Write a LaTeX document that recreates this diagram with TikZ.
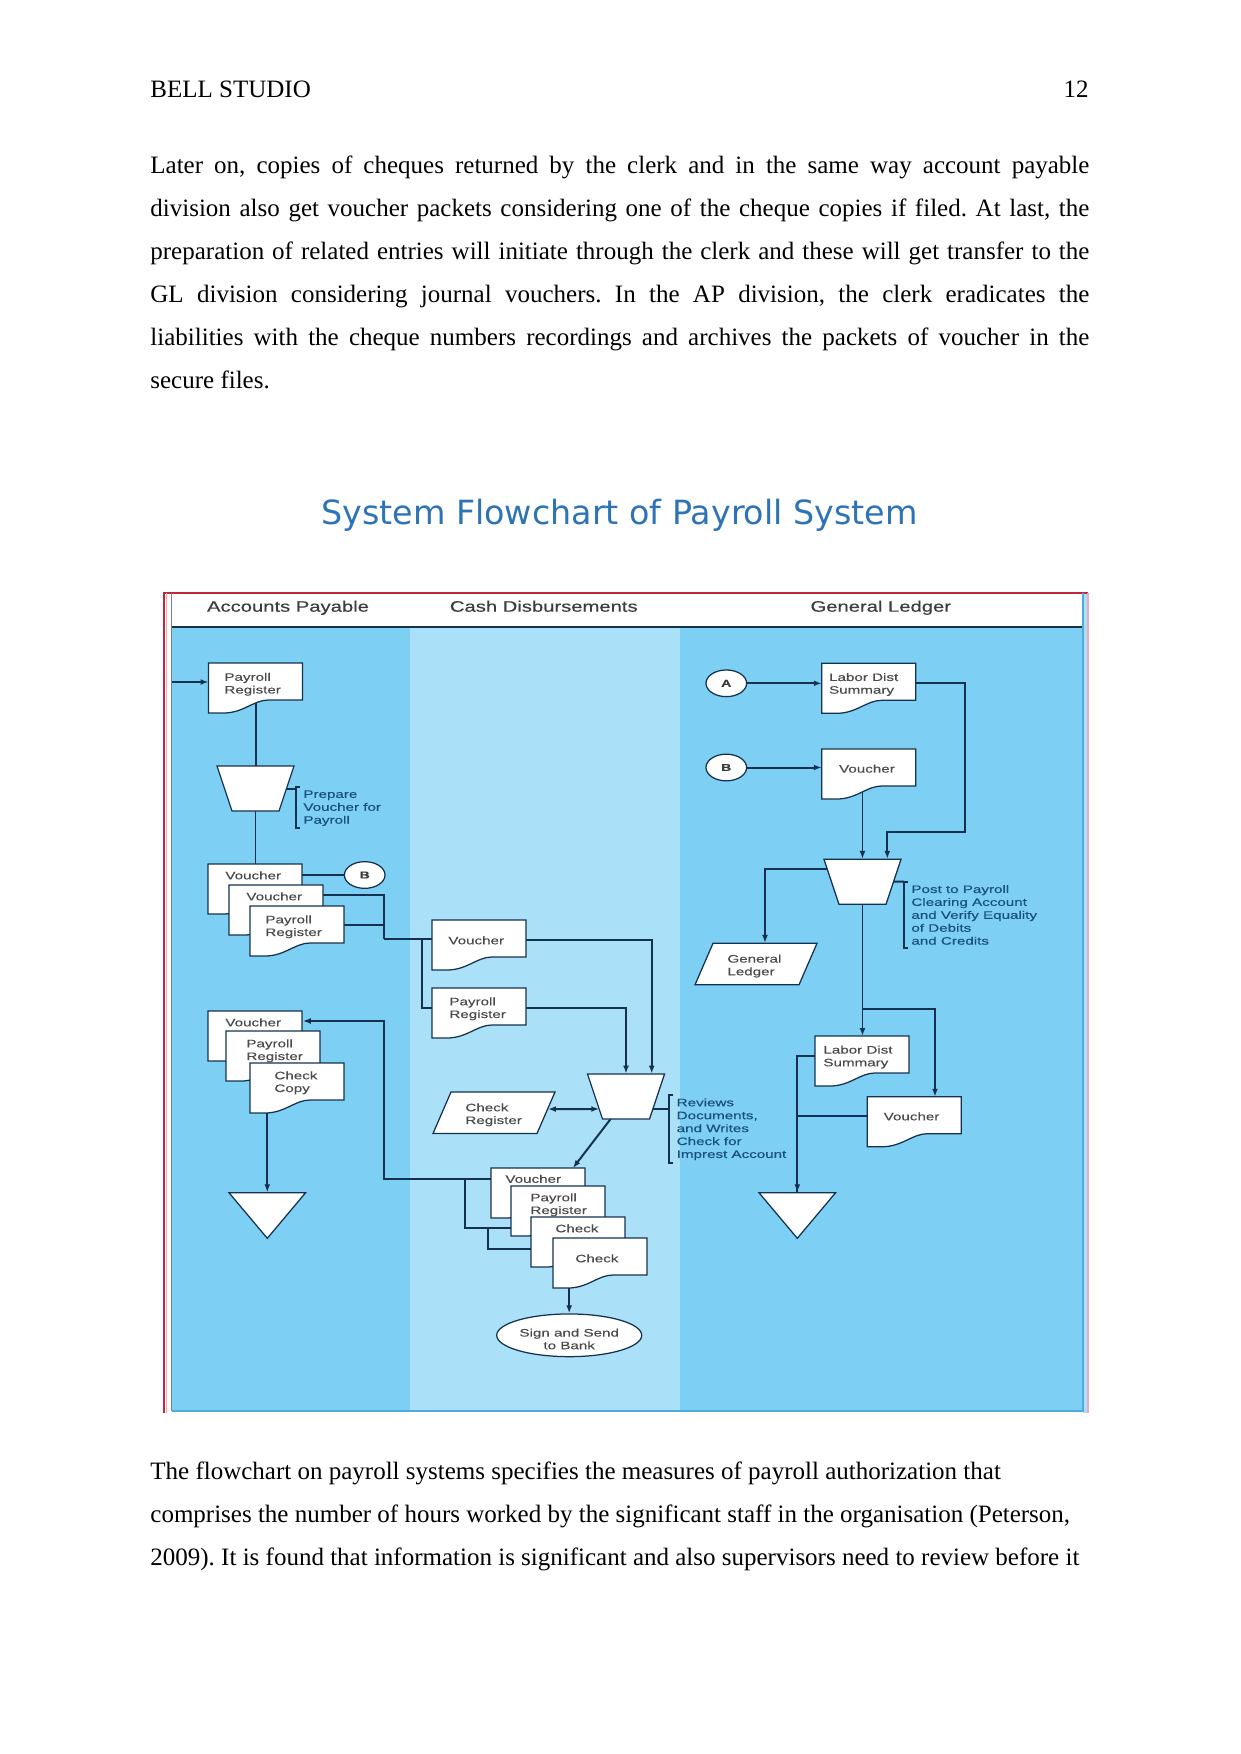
\documentclass[tikz,border=0pt]{standalone}
\usepackage{fontspec}
\setmainfont{Liberation Serif}
\newfontfamily\dejavu{DejaVu Sans}
\newfontfamily\dfont[FakeStretch=1.4,FakeBold=0.25]{Liberation Sans}
\newfontfamily\hfont[FakeStretch=1.33,FakeBold=0.4]{Liberation Sans}
\usetikzlibrary{arrows.meta,calc,shapes.geometric}
\definecolor{lanedark}{RGB}{125,207,243}
\definecolor{lanelight}{RGB}{170,225,248}
\definecolor{navy}{RGB}{20,50,80}
\definecolor{anncol}{RGB}{25,80,125}
\definecolor{txtgray}{RGB}{75,75,75}
\definecolor{hdrgray}{RGB}{60,60,60}
\definecolor{titleblue}{RGB}{46,116,181}
\definecolor{framered}{RGB}{190,40,60}
\definecolor{framepink}{RGB}{240,170,180}
\definecolor{frameblue}{RGB}{80,170,220}
\pgfdeclarelayer{lanes}
\pgfdeclarelayer{links}
\pgfsetlayers{lanes,links,main}
\tikzset{
  shp/.style={draw=navy, line width=0.6pt, fill=white},
  lnk/.style={draw=navy, line width=0.95pt},
  arr/.style={lnk, -{Latex[length=3.8pt,width=2.8pt]}},
  darr/.style={lnk, {Latex[length=3.8pt,width=2.8pt]}-{Latex[length=3.8pt,width=2.8pt]}},
  brk/.style={draw=navy, line width=0.8pt},
  docbox/.style={inner sep=0pt, anchor=north west, minimum width=45.12pt, minimum height=24pt},
  opbox/.style={inner sep=0pt, minimum width=36.96pt, minimum height=21.6pt},
  parbox/.style={inner sep=0pt, minimum width=49.92pt, minimum height=19.92pt},
  filebox/.style={inner sep=0pt, minimum width=36.8pt, minimum height=21.9pt},
  dtxt/.style={font=\dfont\fontsize{5.2}{6.1}\selectfont, text=txtgray, inner sep=0pt, anchor=north west, align=left},
  atxt/.style={font=\dfont\fontsize{5.2}{6.2}\selectfont, text=anncol, inner sep=0pt, anchor=north west, align=left},
  circ/.style={ellipse, draw=navy, line width=0.6pt, fill=white, inner sep=0pt, minimum width=19.5pt, minimum height=12.8pt, font=\dfont\bfseries\fontsize{4.8}{5.5}\selectfont, text=hdrgray},
  ellip/.style={ellipse, draw=navy, line width=0.6pt, fill=white, inner sep=0pt, minimum width=69.6pt, minimum height=20.5pt},
  elltxt/.style={font=\dfont\fontsize{5.2}{6.1}\selectfont, text=txtgray, align=center, inner sep=0pt},
  hdr/.style={font=\hfont\fontsize{7.3}{8}\selectfont, text=hdrgray, inner sep=0pt, anchor=base},
  body/.style={font=\fontsize{12}{14}\selectfont\frenchspacing, inner sep=0pt, anchor=base west},
  ttl/.style={font=\dejavu\fontsize{16}{19}\selectfont, text=titleblue, inner sep=0pt, anchor=base}
}
\newcommand\docu[6]{%
  \path[shp] (#2,#3) -- (#2+94,#3) -- (#2+94,#3+37) -- (#2+60,#3+37)
     .. controls (#2+45,#3+37) and (#2+35,#3+50) .. (#2+15,#3+50) -- (#2,#3+50) -- cycle;
  \node[docbox] (#1) at (#2,#3) {};
  \node[dtxt] (#1t) at (#2+#4,#3+#5-4) {#6};
}
\newcommand\manop[3]{%
  \path[shp] (#2-38.5,#3) -- (#2+38.5,#3) -- (#2+23.5,#3+45) -- (#2-23.5,#3+45) -- cycle;
  \node[opbox] (#1) at (#2,#3+22.5) {};
}
\newcommand\paral[4]{%
  \path[shp] (#2+18,#3) -- (#2+122,#3) -- (#2+104,#3+41.5) -- (#2,#3+41.5) -- cycle;
  \node[parbox] (#1) at (#2+61,#3+20.75) {};
  \node[dtxt] (#1t) at (#2+32,#3+11) {#4};
}
\newcommand\filecab[3]{%
  \path[shp] (#2-38.3,#3) -- (#2+38.3,#3) -- (#2,#3+45.6) -- cycle;
  \node[filebox] (#1) at (#2,#3+22.8) {};
}
\newcommand\annotb[6]{%
  \draw[brk] (#2+4,#3) -- (#2,#3) -- (#2,#4) -- (#2+4,#4);
  \coordinate (#1) at (#2,#5);
  \node[atxt] (#1t) at (#2+7,#3+3) {#6};
}
\newcommand\jline[1]{\hbox to 450.7pt{#1}}
\begin{document}
\begin{tikzpicture}[x=0.48pt,y=-0.48pt]
\useasboundingbox (0,0) rectangle (1241,1754);
\begin{pgfonlayer}{lanes}
  \fill[white] (0,0) rectangle (1241,1754);
  \fill[white] (171.7,593) rectangle (1083,627);
  \fill[lanedark] (171.7,627) rectangle (410,1411);
  \fill[lanelight] (410,627) rectangle (680,1411);
  \fill[lanedark] (680,627) rectangle (1083,1411);
  \fill[lanelight] (1083,593) rectangle (1086.5,1413);
  \draw[framered, line width=0.6pt] (164,1413) -- (164,593) -- (1088,593);
  \draw[framepink, line width=0.6pt] (1088,593) -- (1088,1413);
  \draw[framepink, line width=0.4pt] (166.5,593) -- (166.5,1413);
  \draw[gray, line width=0.5pt] (171.7,593) -- (171.7,1411);
  \draw[navy, line width=0.8pt] (171.7,627) -- (1083,627);
  \draw[frameblue, line width=0.8pt] (1083,593) -- (1083,1411) -- (171.7,1411);
\end{pgfonlayer}

% page text
\node[body] (hdrL) at (150,97.8) {BELL STUDIO};
\node[body, anchor=base east] (hdrR) at (1089,97.8) {12};
\node[body] (p1) at (150,173.5) {\jline{Later on, copies of cheques returned by the clerk and in the same way account payable}};
\node[body] (p2) at (150,216.4) {\jline{division also get voucher packets considering one of the cheque copies if filed. At last, the}};
\node[body] (p3) at (150,259.3) {\jline{preparation of related entries will initiate through the clerk and these will get transfer to the}};
\node[body] (p4) at (150,302.2) {\jline{GL division considering journal vouchers. In the AP division, the clerk eradicates the}};
\node[body] (p5) at (150,345.1) {\jline{liabilities with the cheque numbers recordings and archives the packets of voucher in the}};
\node[body] (p6) at (150,388) {secure files.};
\node[ttl] (title) at (619.5,524) {System Flowchart of Payroll System};
\node[body] (q1) at (150,1479) {The flowchart on payroll systems specifies the measures of payroll authorization that};
\node[body] (q2) at (150,1522) {comprises the number of hours worked by the significant staff in the organisation (Peterson,};
\node[body] (q3) at (150,1565) {2009). It is found that information is significant and also supervisors need to review before it};

% lane headers
\node[hdr] (hAP) at (288,611.7) {Accounts Payable};
\node[hdr] (hCD) at (543.8,611.7) {Cash Disbursements};
\node[hdr] (hGL) at (880.8,611.7) {General Ledger};

% Accounts Payable lane
\docu{pr1}{208.5}{663}{15.5}{13.5}{Payroll\\Register}
\manop{t1}{255.5}{766}
\annotb{a1}{296}{787}{828}{788.5}{Prepare\\Voucher for\\Payroll}
\docu{v1}{208}{864}{17}{11}{Voucher}
\node[circ] (B1) at (364.7,875) {B};
\docu{v2}{229}{885}{17}{11}{Voucher}
\docu{pr2}{250}{906}{15}{13}{Payroll\\Register}
\docu{v3}{208}{1011}{17}{11}{Voucher}
\docu{pr3}{226}{1031}{20}{12}{Payroll\\Register}
\docu{cc}{250}{1063}{24}{12}{Check\\Copy}
\filecab{f1}{267.3}{1192.7}

% Cash Disbursements lane
\docu{cdv}{432}{920}{16}{20}{Voucher}
\docu{cdpr}{432}{988}{17}{13}{Payroll\\Register}
\manop{t2}{626}{1074}
\paral{cr}{433}{1092}{Check\\Register}
\annotb{a2}{669.3}{1095}{1163}{1109}{Reviews\\Documents,\\and Writes\\Check for\\Imprest Account}
\docu{sv}{491}{1168}{14}{10.5}{Voucher}
\docu{spr}{511}{1186}{19}{11}{Payroll\\Register}
\docu{sc1}{531}{1217}{24}{11}{Check}
\docu{sc2}{553}{1238}{22}{20}{Check}
\node[ellip] (snd) at (569.2,1335.3) {};
\node[elltxt] (sndt) at (569.2,1339) {Sign and Send\\to Bank};

% General Ledger lane
\node[circ] (A) at (726.3,683.3) {A};
\docu{lds1}{821.7}{663.3}{7}{13.4}{Labor Dist\\Summary}
\node[circ] (B2) at (726.3,767.5) {B};
\docu{glv}{821.7}{749}{17}{19.3}{Voucher}
\manop{t3}{862.5}{859.3}
\annotb{a3}{904}{881.7}{948.3}{881.7}{Post to Payroll\\Clearing Account\\and Verify Equality\\of Debits\\and Credits}
\paral{gl}{695}{943.3}{General\\Ledger}
\docu{lds2}{815}{1036}{8}{13.3}{Labor Dist\\Summary}
\docu{glv2}{867.3}{1096.7}{16}{19.3}{Voucher}
\filecab{f2}{797.3}{1192.7}

% connectors
\coordinate (inL) at (171.7,682);
\coordinate (m1) at (384.3,939.3);
\coordinate (m2) at (421.7,939.3);
\coordinate (m3) at (384.3,1021);
\coordinate (m4) at (465,1179);
\coordinate (m5) at (488.3,1228.3);
\coordinate (m6) at (965,831.7);
\coordinate (m7) at (862.5,1009);
\begin{pgfonlayer}{links}
  % AP
  \draw[arr] (inL) -- (inL -| pr1.west);
  \draw[lnk] (pr1.center) -- (pr1.center |- t1.center);
  \draw[lnk] (t1.center) -- (t1.center |- v1.center);
  \draw[lnk] (t1.center) -- (t1.center -| a1);
  \draw[lnk] (v1.center |- B1) -- (B1);
  \draw[lnk] ($(v2.center)+(0,-15)$) -| (m1);
  \draw[lnk] ($(pr2.center)+(0,-6)$) -| (m1);
  \draw[lnk] (m1) -- (m1 -| cdv.center);
  \draw[lnk] (m2) |- ($(cdpr.north west)+(0,19.7)$);
  \draw[arr] ($(sv.north west)+(0,11)$) -| (m3) -- (m3 -| v3.east);
  \draw[lnk] (m4) |- ($(spr.north west)+(0,42.3)$);
  \draw[lnk] (m5) |- ($(sc1.north west)+(0,32)$);
  \draw[arr] (cc.center -| f1.north) -- (f1.north);
  % CD
  \draw[arr] ($(cdv.center)+(0,-5.7)$) -| ($(t2.north)+(25.7,0)$);
  \draw[arr] ($(cdpr.center)+(0,-5.3)$) -| (t2.north);
  \draw[darr] ($(cr.center)+(54,-3.7)$) -- ($(t2.center)+(-26.8,12.5)$);
  \draw[lnk] (t2.center |- a2) -- (a2);
  \draw[arr] ($(t2.center)+(-15,22)$) -- ($(sv.north west)+(82,0)$);
  \draw[arr] (sc2.center -| snd.north) -- (snd.north);
  % GL
  \draw[arr] (A) -- (A -| lds1.west);
  \draw[arr] (B2) -- (B2 -| glv.west);
  \draw[arr] ($(lds1.center)+(0,-6)$) -| (m6) -| ($(t3.north)+(24.8,0)$);
  \draw[arr] (glv.center -| t3.north) -- (t3.north);
  \draw[lnk] (t3.center) -- (a3);
  \draw[arr] ($(t3.center)+(0,-12.7)$) -| ($(gl.north)+(9,0)$);
  \draw[arr] (t3.center) -- (t3.center |- lds2.north);
  \draw[arr] (m7) -| ($(glv2.north west)+(67.7,0)$);
  \draw[arr] ($(lds2.center)+(0,-5.3)$) -| (f2.north);
  \draw[lnk] ($(glv2.center)+(0,-5.7)$) -| (f2.north);
\end{pgfonlayer}
\end{tikzpicture}
\end{document}
